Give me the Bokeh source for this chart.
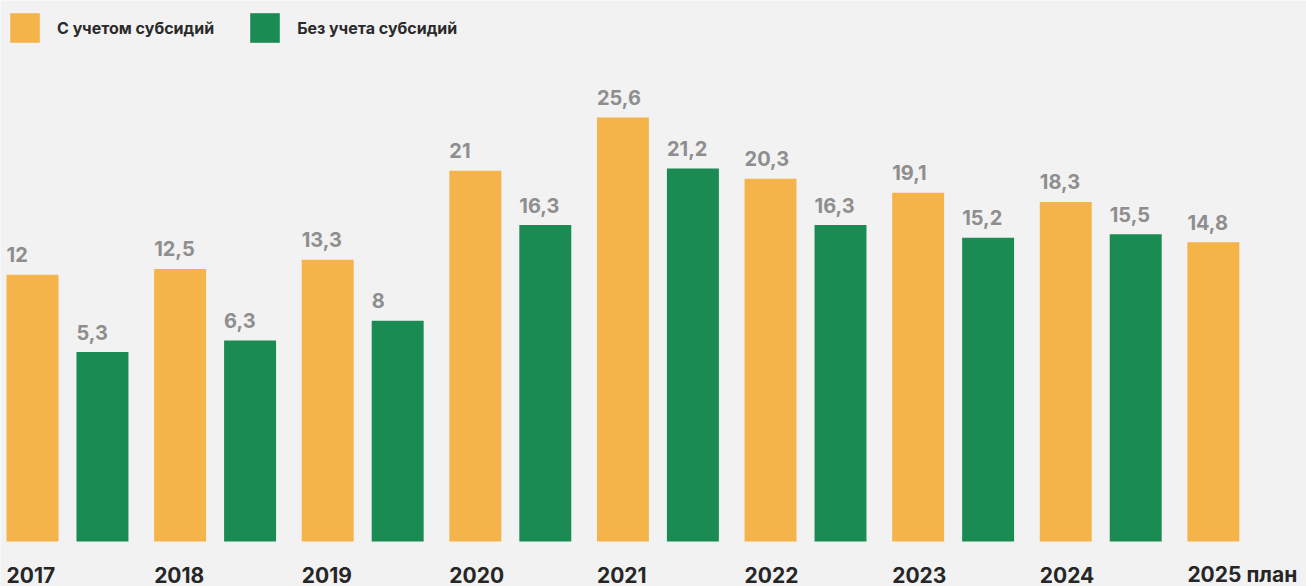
from bokeh.plotting import figure
from bokeh.models import ColumnDataSource, Range1d, Legend, LegendItem
from bokeh.core.properties import value
from bokeh.embed import file_html
from bokeh.resources import INLINE

years = ["2017", "2018", "2019", "2020", "2021", "2022", "2023", "2024", "2025 план"]
with_subsidy = [12, 12.5, 13.3, 21, 25.6, 20.3, 19.1, 18.3, 14.8]
without_subsidy = [5.3, 6.3, 8, 16.3, 21.2, 16.3, 15.2, 15.5]
series_names = ["С учетом субсидий", "Без учета субсидий"]

YELLOW = "#F5B449"
GREEN = "#1B8B54"
BG = "#F2F2F2"
LABEL_GRAY = "#8E8E8E"
YEAR_COLOR = "#262626"
FONT = "Inter"

BAR_W = 0.352
GREEN_OFF = 0.474
Y_START, Y_END = -15.0, 35.74
BAR_BOTTOM = -11.1


def fmt(v):
    return f"{v:g}".replace(".", ",")


p = figure(width=1306, height=586, output_backend="svg", toolbar_location=None,
           x_range=Range1d(-0.2168, 8.631), y_range=Range1d(Y_START, Y_END),
           min_border=0, background_fill_color=BG, border_fill_color=BG,
           outline_line_color=None)
p.axis.visible = False
p.grid.visible = False

xs_y = list(range(len(years)))
xs_g = [i + GREEN_OFF for i in range(len(without_subsidy))]

src_y = ColumnDataSource(dict(x=xs_y, top=with_subsidy,
                              left=[x - BAR_W / 2 for x in xs_y],
                              lab=[fmt(v) for v in with_subsidy],
                              year=years))
src_g = ColumnDataSource(dict(x=xs_g, top=without_subsidy,
                              left=[x - BAR_W / 2 for x in xs_g],
                              lab=[fmt(v) for v in without_subsidy]))

r1 = p.vbar(x="x", top="top", bottom=BAR_BOTTOM, width=BAR_W, source=src_y,
            fill_color=YELLOW, line_color=None)
r2 = p.vbar(x="x", top="top", bottom=BAR_BOTTOM, width=BAR_W, source=src_g,
            fill_color=GREEN, line_color=None)

for src in (src_y, src_g):
    p.text(x="left", y="top", text="lab", source=src, y_offset=-20,
           text_font=value(FONT), text_font_size="20px", text_font_style="bold",
           text_color=LABEL_GRAY, text_align="left", text_baseline="alphabetic")

p.text(x="left", y=Y_START, text="year", source=src_y, y_offset=-12,
       text_font=value(FONT), text_font_size="21px", text_font_style="bold",
       text_color=YEAR_COLOR, text_align="left", text_baseline="alphabetic")

legend = Legend(items=[LegendItem(label=series_names[0], renderers=[r1]),
                       LegendItem(label=series_names[1], renderers=[r2])],
                orientation="horizontal", location=(6, 540),
                glyph_width=37, glyph_height=37, label_standoff=14, spacing=32,
                padding=0, margin=0, border_line_color=None,
                background_fill_alpha=0, label_text_font=FONT,
                label_text_font_size="16px", label_text_font_style="bold",
                label_text_color="#2A2A2A", label_height=37)
p.add_layout(legend, "center")

open("out.html", "w").write(file_html(p, INLINE))
